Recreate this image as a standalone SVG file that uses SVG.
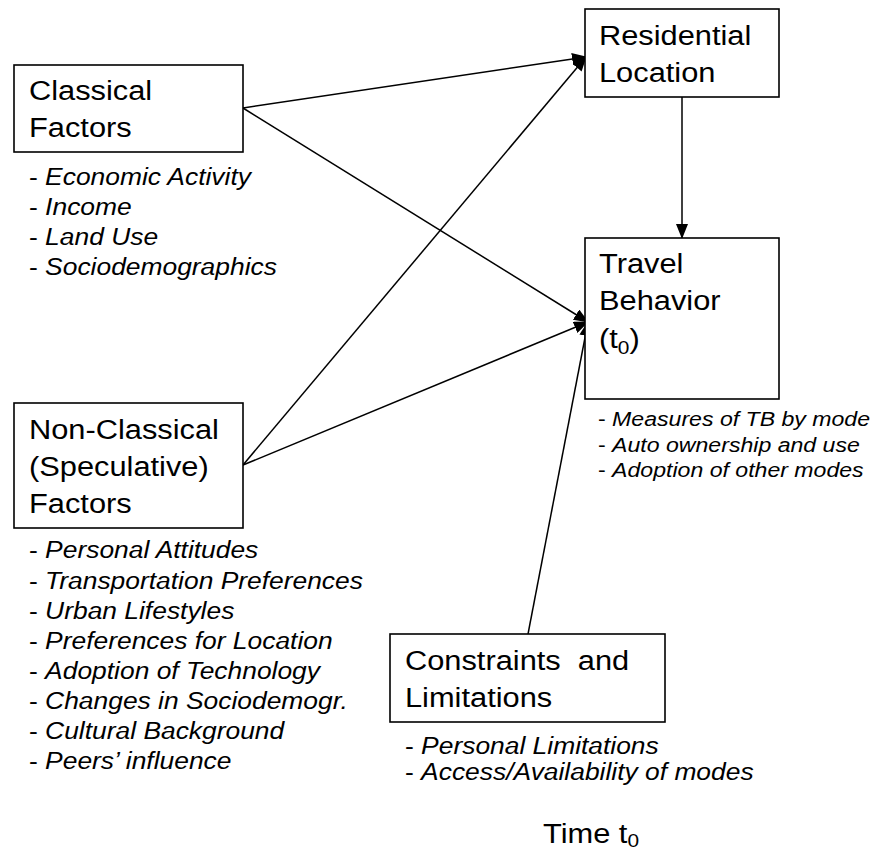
<svg xmlns="http://www.w3.org/2000/svg" width="871" height="854" viewBox="0 0 871 854">
<defs>
<style>
.box{fill:#fff;stroke:#000;stroke-width:1.6}
.t{font-family:"Liberation Sans",Arial,sans-serif;font-size:28px;fill:#000}
.l{font-family:"Liberation Sans",Arial,sans-serif;font-size:24px;fill:#000}
.s{font-family:"Liberation Sans",Arial,sans-serif;font-size:21px;fill:#000}
.i{font-style:italic}
.c{stroke:#000;stroke-width:1.5;fill:none;marker-end:url(#ah)}
</style>
<marker id="ah" markerUnits="userSpaceOnUse" markerWidth="16" markerHeight="12" refX="14" refY="6" orient="auto">
<path d="M0,0 L15,6 L0,12 Z" fill="#000"/>
</marker>
</defs>
<rect width="871" height="854" fill="#fff"/>
<g id="connectors">
<line class="c" x1="243" y1="108" x2="586" y2="57"/>
<line class="c" x1="243" y1="108" x2="588" y2="322"/>
<line class="c" x1="243" y1="465" x2="586" y2="57"/>
<line class="c" x1="243" y1="465" x2="588" y2="322"/>
<line class="c" x1="528" y1="634" x2="588" y2="322"/>
<line class="c" x1="682" y1="97" x2="682" y2="238"/>
</g>
<g id="classical">
<rect class="box" x="14" y="65" width="229" height="87"/>
<text class="t" transform="translate(29 0) scale(1.1 1)"><tspan x="0" y="100">Classical</tspan><tspan x="0" y="137">Factors</tspan></text>
<text class="l" transform="translate(29 0) scale(1.1 1)"><tspan x="0" y="185">- <tspan class="i">Economic Activity</tspan></tspan><tspan x="0" y="215">- <tspan class="i">Income</tspan></tspan><tspan x="0" y="245">- <tspan class="i">Land Use</tspan></tspan><tspan x="0" y="275">- <tspan class="i">Sociodemographics</tspan></tspan></text>
</g>
<g id="nonclassical">
<rect class="box" x="14" y="403" width="229" height="125"/>
<text class="t" transform="translate(29 0) scale(1.1 1)"><tspan x="0" y="439">Non-Classical</tspan><tspan x="0" y="476">(Speculative)</tspan><tspan x="0" y="513">Factors</tspan></text>
<text class="l" transform="translate(29 0) scale(1.1 1)"><tspan x="0" y="558">- <tspan class="i">Personal Attitudes</tspan></tspan><tspan x="0" y="589">- <tspan class="i">Transportation Preferences</tspan></tspan><tspan x="0" y="619">- <tspan class="i">Urban Lifestyles</tspan></tspan><tspan x="0" y="649">- <tspan class="i">Preferences for Location</tspan></tspan><tspan x="0" y="679">- <tspan class="i">Adoption of Technology</tspan></tspan><tspan x="0" y="709">- <tspan class="i">Changes in Sociodemogr.</tspan></tspan><tspan x="0" y="739">- <tspan class="i">Cultural Background</tspan></tspan><tspan x="0" y="769">- <tspan class="i">Peers’ influence</tspan></tspan></text>
</g>
<g id="residential">
<rect class="box" x="585" y="9" width="194" height="88"/>
<text class="t" transform="translate(599 0) scale(1.1 1)"><tspan x="0" y="45">Residential</tspan><tspan x="0" y="82">Location</tspan></text>
</g>
<g id="travel">
<rect class="box" x="585" y="238" width="194" height="161"/>
<text class="t" transform="translate(599 0) scale(1.1 1)"><tspan x="0" y="273">Travel</tspan><tspan x="0" y="310">Behavior</tspan><tspan x="0" y="348">(t</tspan><tspan font-size="19" dy="6">0</tspan><tspan dy="-6">)</tspan></text>
<text class="s" transform="translate(598 0) scale(1.1 1)"><tspan x="0" y="426">- <tspan class="i">Measures of TB by mode</tspan></tspan><tspan x="0" y="452">- <tspan class="i">Auto ownership and use</tspan></tspan><tspan x="0" y="477">- <tspan class="i">Adoption of other modes</tspan></tspan></text>
</g>
<g id="constraints">
<rect class="box" x="390" y="634" width="275" height="88"/>
<text class="t" transform="translate(405 0) scale(1.1 1)" style="white-space:pre"><tspan x="0" y="670">Constraints  and</tspan><tspan x="0" y="707">Limitations</tspan></text>
<text class="l" transform="translate(405 0) scale(1.1 1)"><tspan x="0" y="754">- <tspan class="i">Personal Limitations</tspan></tspan><tspan x="0" y="780">- <tspan class="i">Access/Availability of modes</tspan></tspan></text>
</g>
<g id="time">
<text class="t" transform="translate(543 0) scale(1.1 1)"><tspan x="0" y="843">Time t</tspan><tspan font-size="19" dy="4">0</tspan></text>
</g>
</svg>
